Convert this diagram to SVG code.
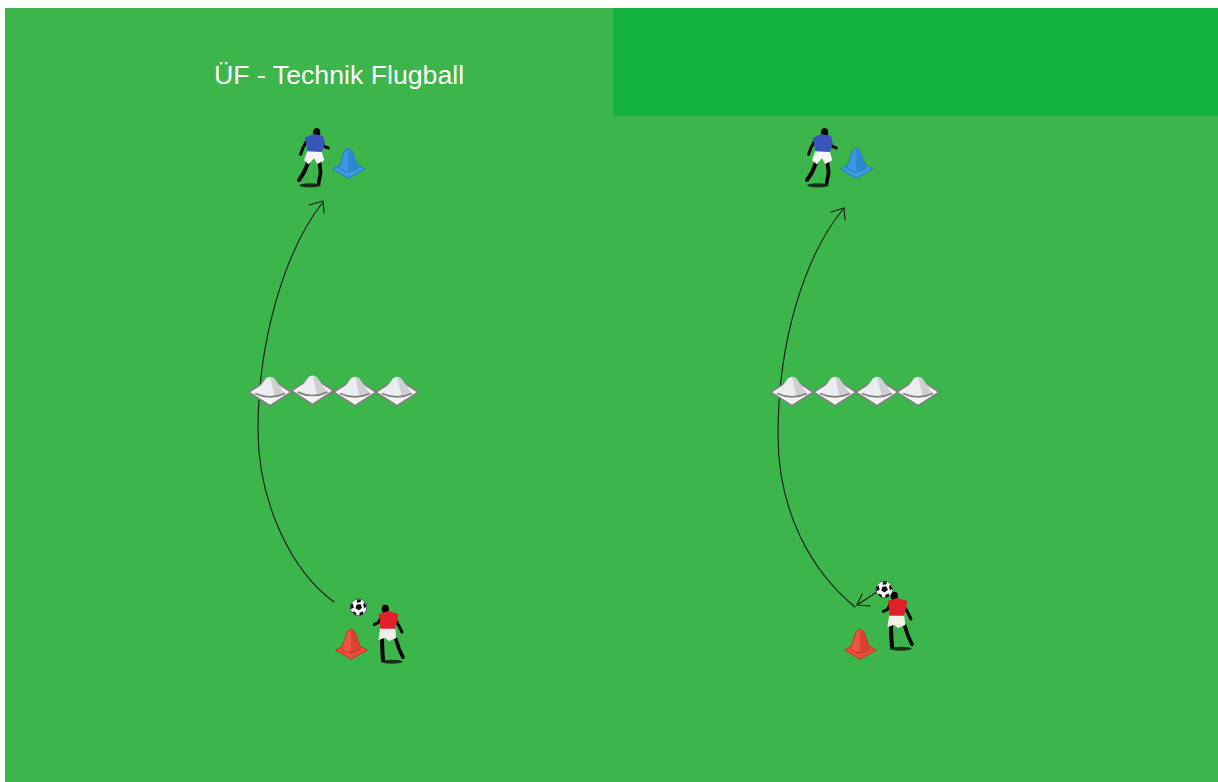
<svg xmlns="http://www.w3.org/2000/svg" width="1218" height="782" viewBox="0 0 1218 782">
<style>
.title{font-family:"Liberation Sans",Arial,sans-serif;font-size:26.7px;fill:#fff}
.arc{fill:none;stroke:#1a1a1a;stroke-width:1.1;stroke-linecap:round;stroke-linejoin:round}
.limb{fill:none;stroke:#050505;stroke-linecap:round;stroke-linejoin:round}
</style>
<defs>
<filter id="soft" x="-20%" y="-40%" width="140%" height="180%"><feGaussianBlur stdDeviation="1.5"/></filter>
<!-- Players are drawn at triple scale and placed with a .3333 transform -->
<g id="playerBlue">
<ellipse cx="90" cy="211" rx="33" ry="6" fill="#0c0c0c" opacity=".8" filter="url(#soft)"/>
<path class="limb" stroke-width="12" d="M84 144 72 172 57 195"/>
<path class="limb" stroke-width="11" d="M118 142 122 172 116 204"/>
<path class="limb" stroke-width="9" d="M80 78 69 98 62 118M124 80 132 94 145 99"/>
<ellipse cx="110" cy="53" rx="11" ry="14" fill="#050505"/>
<path d="M83 106 125 108 133 136 112 147 102 130 86 148 72 136Z" fill="#f6f6f6"/>
<path d="M74 68 100 57 129 62 135 86 125 111 82 109 79 90Z" fill="#3c55bb"/>
</g>
<g id="playerRed">
<ellipse cx="200" cy="215" rx="33" ry="6" fill="#0c0c0c" opacity=".8" filter="url(#soft)"/>
<path class="limb" stroke-width="12" d="M171 146 172 180 174 208"/>
<path class="limb" stroke-width="11" d="M212 146 222 176 234 202"/>
<path class="limb" stroke-width="9" d="M167 85 160 98 148 103M212 90 222 108 231 126"/>
<ellipse cx="181" cy="57" rx="11" ry="13" fill="#050505"/>
<path d="M166 112 210 110 214 144 192 153 180 143 160 151Z" fill="#f2f0e8"/>
<path d="M161 72 190 63 220 72 216 94 210 116 166 116 165 92Z" fill="#e0202a"/>
</g>
<g id="coneBlue">
<path d="M158 162 205 136 255 162 205 190Z" fill="#3f9be0" stroke="#2079c7" stroke-width="3" stroke-linejoin="round"/>
<path d="M176 160 193 108Q205 92 217 108L235 160Q205 182 176 160Z" fill="#3b98df" stroke="#2079c7" stroke-width="3" stroke-linejoin="round"/>
<path d="M205 100Q212 100 217 108L235 160Q222 171 205 172Z" fill="#2f86cf"/>
</g>
<g id="coneRed">
<path d="M32 180 78 154 127 180 78 208Z" fill="#e8503c" stroke="#c93024" stroke-width="3" stroke-linejoin="round"/>
<path d="M49 178 66 126Q78 110 90 126L108 178Q78 200 49 178Z" fill="#ea5643" stroke="#c93024" stroke-width="3" stroke-linejoin="round"/>
<path d="M78 118Q85 118 90 126L108 178Q95 189 78 190Z" fill="#d9402f"/>
</g>
<g id="marker">
<path d="M-62 44 0 4 62 44 0 84Z" fill="#f4f4f4" stroke="#808080" stroke-width="5" stroke-linejoin="round"/>
<path d="M-44 48-12 4Q0-6 12 4L44 48Q0 68-44 48Z" fill="#ecedf0"/>
<path d="M0-1Q6-1 12 4L44 48Q30 56 14 57Z" fill="#cfcfd3"/>
<path d="M-44 48Q0 68 44 48" fill="none" stroke="#808080" stroke-width="5"/>
</g>
<g id="ball">
<circle r="25" fill="#fff" stroke="#333" stroke-width="2"/>
<path d="M-6-8 6-10 11 1 1 9-9 3Z" fill="#111"/>
<path d="M-4-24 8-23 6-15-5-14ZM17-16 24-4 18 4 14-7ZM14 12 14 21 3 25 3 16ZM-14 12-6 18-8 24-19 15ZM-24-8-17-12-14 1-24 6Z" fill="#111"/>
</g>
</defs>

<rect id="page" width="1218" height="782" fill="#fff"/>
<rect id="field" x="5" y="8" width="1213" height="774" fill="#3cb54a"/>
<rect id="banner" x="613" y="8" width="605" height="108" fill="#12b23c"/>
<text id="title" class="title" x="214" y="84">ÜF - Technik Flugball</text>

<g id="connectors">
<path class="arc" d="M334 602C290 570 258 500 258 430C258 340 285 250 323 202"/>
<path class="arc" d="M309 205 323 201 324 213"/>
<path class="arc" d="M855 607C810 570 778 510 778 435C778 340 805 255 844 208"/>
<path class="arc" d="M831 212 844 208 845 220"/>
<path class="arc" d="M877 592 857 605"/>
<path class="arc" d="M862 594 857 605 870 606"/>
</g>

<g id="player-top-left"><use href="#playerBlue" transform="translate(280 115) scale(.3333)"/></g>
<g id="cone-top-left"><use href="#coneBlue" transform="translate(280 115) scale(.3333)"/></g>
<g id="player-top-right"><use href="#playerBlue" transform="translate(788 115) scale(.3333)"/></g>
<g id="cone-top-right"><use href="#coneBlue" transform="translate(788 115) scale(.3333)"/></g>

<g id="markers-left">
<use href="#marker" transform="translate(270 377.2) scale(.34)"/>
<use href="#marker" transform="translate(312.5 375.8) scale(.34)"/>
<use href="#marker" transform="translate(355 377.2) scale(.34)"/>
<use href="#marker" transform="translate(397 377.2) scale(.34)"/>
</g>
<g id="markers-right">
<use href="#marker" transform="translate(792 377.2) scale(.34)"/>
<use href="#marker" transform="translate(835 377.2) scale(.34)"/>
<use href="#marker" transform="translate(877 377.2) scale(.34)"/>
<use href="#marker" transform="translate(918 377.2) scale(.34)"/>
</g>

<g id="cone-bottom-left"><use href="#coneRed" transform="translate(325 590) scale(.3333)"/></g>
<g id="player-bottom-left"><use href="#playerRed" transform="translate(325 590) scale(.3333)"/></g>
<g id="ball-left"><use href="#ball" transform="translate(358.5 607.3) scale(.3333)"/></g>

<g id="cone-bottom-right"><use href="#coneRed" transform="translate(834 590) scale(.3333)"/></g>
<g id="player-bottom-right"><use href="#playerRed" transform="translate(834 577) scale(.3333)"/></g>
<g id="ball-right"><use href="#ball" transform="translate(884.3 589.5) scale(.3333)"/></g>
</svg>
